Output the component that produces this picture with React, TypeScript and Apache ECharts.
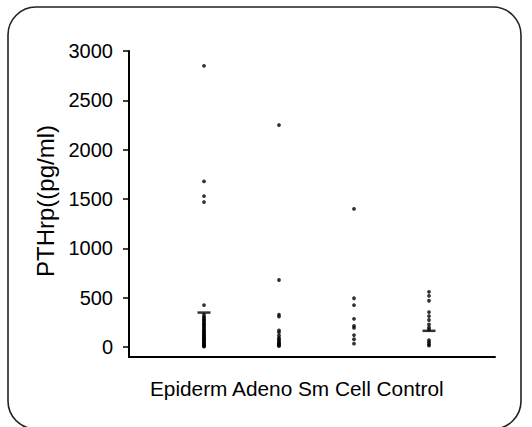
import React, { useEffect, useRef } from "react";
import * as echarts from "echarts";

const categories = ["Epiderm", "Adeno", "Sm Cell", "Control"];
const xLabel = "Epiderm Adeno Sm Cell Control";
const yTitle = "PTHrp((pg/ml)";
const yTicks = [0, 500, 1000, 1500, 2000, 2500, 3000];

const epiderm = [2850, 1680, 1530, 1470, 425, 330, 310, 295, 280, 270, 255, 240, 230, 220, 205, 195, 180, 170, 160, 150, 140, 130, 120, 110, 100, 90, 80, 75, 65, 55, 45, 40, 30, 25, 15, 10, 5];
const adeno = [2250, 680, 330, 310, 170, 150, 120, 95, 80, 65, 50, 40, 30, 20, 10];
const smCell = [1400, 495, 425, 287, 215, 195, 122, 80, 35];
const control = [560, 520, 470, 355, 315, 275, 230, 200, 180, 70, 50, 30, 15];
const groups = [epiderm, adeno, smCell, control];

// horizontal median marks: [category index (1-based), value]
const medians: [number, number][] = [
  [1, 350],
  [4, 165],
];

export default function App() {
  const ref = useRef<HTMLDivElement>(null);
  useEffect(() => {
    if (!ref.current) return;
    const chart = echarts.init(ref.current, null, { renderer: "svg" });
    const points: [number, number][] = [];
    groups.forEach((g, i) => g.forEach((v) => points.push([i + 1, v])));
    const font = "'Liberation Sans', Arial, Helvetica, sans-serif";
    chart.setOption({
      animation: false,
      backgroundColor: "#fff",
      grid: { left: 129, right: 37, top: 51, bottom: 70 },
      xAxis: {
        type: "value",
        min: 0,
        max: 4.88,
        splitLine: { show: false },
        axisTick: { show: false },
        axisLabel: { show: false },
        axisLine: { show: true, onZero: false, lineStyle: { color: "#000", width: 2 } },
      },
      yAxis: {
        type: "value",
        min: -100,
        max: 3000,
        splitLine: { show: false },
        axisLine: { show: true, onZero: false, lineStyle: { color: "#000", width: 2 } },
        axisTick: {
          show: true,
          length: 6,
          customValues: yTicks,
          lineStyle: { color: "#000", width: 1.5 },
        },
        axisLabel: {
          customValues: yTicks,
          margin: 16,
          color: "#000",
          fontSize: 20,
          fontFamily: font,
          formatter: (v: number) => String(v),
        },
      },
      series: [
        {
          type: "scatter",
          name: categories.join(","),
          data: points,
          symbol: "circle",
          symbolSize: 3.8,
          itemStyle: { color: "#000" },
          silent: true,
        },
        {
          type: "scatter",
          data: medians,
          symbol: "rect",
          symbolSize: [13, 2.5],
          itemStyle: { color: "#000" },
          silent: true,
        },
      ],
      graphic: [
        {
          type: "rect",
          shape: { x: 8, y: 7, width: 513, height: 422, r: 28 },
          style: { fill: "none", stroke: "#222", lineWidth: 1.6 },
          silent: true,
        },
        {
          type: "text",
          x: 45,
          y: 201,
          rotation: Math.PI / 2,
          style: {
            text: yTitle,
            align: "center",
            verticalAlign: "middle",
            fontSize: 24,
            fontFamily: font,
            fill: "#000",
          },
        },
        {
          type: "text",
          x: 150,
          y: 388,
          style: {
            text: xLabel,
            align: "left",
            verticalAlign: "middle",
            fontSize: 20.8,
            fontFamily: font,
            fill: "#000",
          },
        },
      ],
    });
    return () => chart.dispose();
  }, []);
  return (
    <div
      ref={ref}
      style={{ position: "fixed", left: 0, top: 0, width: 532, height: 427 }}
    />
  );
}
